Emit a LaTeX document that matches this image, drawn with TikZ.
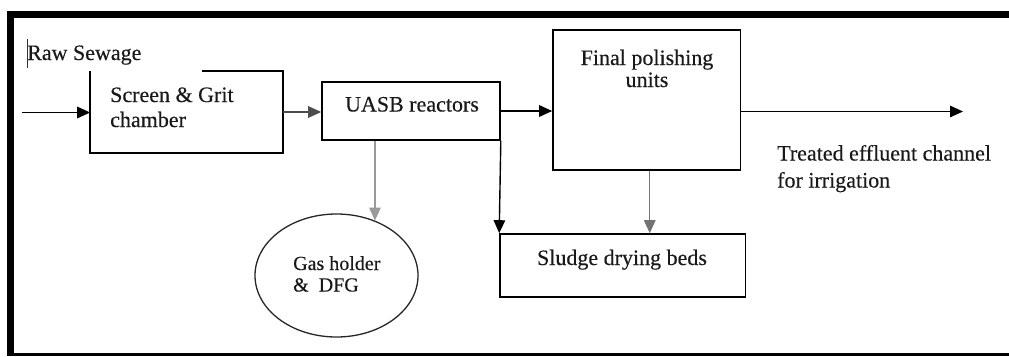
\documentclass[tikz,border=0pt]{standalone}
\usepackage{fontspec}
\setmainfont[FakeBold=0.3]{Liberation Serif}
\usetikzlibrary{arrows.meta,shapes.geometric,calc}
\tikzset{
  box/.style={draw=black, line width=1.6pt, inner sep=0pt, fill=none},
  oval/.style={ellipse, draw=black!85, line width=1.3pt, inner sep=0pt},
  txt/.style={inner sep=0pt, text=black!90},
  flow/.style={line width=1.4pt, -{Triangle[length=13pt,width=11.5pt]}},
  frame/.style={fill=black, draw=none}
}
\begin{document}
\begin{tikzpicture}[x=1pt,y=-1pt]
\useasboundingbox (0,0) rectangle (1009,356);
% frame
\fill[frame] (7,11) rectangle (1009,18);
\fill[frame] (7,11) rectangle (14,356);
\fill[frame] (7,353) rectangle (1009,356);

% boxes
\node[box, minimum width=191pt, minimum height=80pt, draw=none] (scr) at (186.5,112) {};
\draw[line width=1.6pt] ([xshift=112pt]scr.north west) -- (scr.north east) -- (scr.south east) -- (scr.south west) -- (scr.north west);
\node[box, minimum width=178pt, minimum height=58pt] (uasb) at (411,111) {};
\node[box, minimum width=187.5pt, minimum height=140pt] (fin) at (646.75,100) {};
\node[box, minimum width=245.5pt, minimum height=63pt] (sludge) at (622.75,265.5) {};
\node[oval, minimum width=163pt, minimum height=123pt] (gas) at (336.5,275.5) {};

% texts
\node[txt, anchor=base west, font=\fontsize{22}{25}\selectfont] (rawtxt) at (27,60) {Raw Sewage};
\draw[line width=1pt, black!80] (27,39) -- (27,68);
\node[txt, anchor=base west, font=\fontsize{22}{25}\selectfont] (scrtxt) at (110,102)
  {\begin{tabular}[t]{@{}l@{}}Screen \& Grit\\chamber\end{tabular}};
\node[txt, anchor=base, font=\fontsize{22}{25}\selectfont] (uasbtxt) at (412,111.5) {UASB reactors};
\node[txt, anchor=base, font=\fontsize{22}{22}\selectfont] (fintxt) at (647,65)
  {\begin{tabular}[t]{@{}c@{}}Final polishing\\units\end{tabular}};
\node[txt, anchor=base west, font=\fontsize{22}{27}\selectfont] (outtxt) at (777,160.5)
  {\begin{tabular}[t]{@{}l@{}}Treated effluent channel\\for irrigation\end{tabular}};
\node[txt, anchor=base west, font=\fontsize{20}{21.5}\selectfont] (gastxt) at (293,270)
  {\begin{tabular}[t]{@{}l@{}}Gas holder\\\&\hspace{10pt}DFG\end{tabular}};
\node[txt, anchor=base, font=\fontsize{22}{25}\selectfont] (sludgetxt) at (622,265) {Sludge drying beds};

% connectors
\coordinate (in) at (22,112.5);
\coordinate (out) at (963,111.5);
\draw[flow] (in) -- (scr.west |- in);
\draw[flow, black!70] (scr.east) -- (uasb.west |- scr.east);
\draw[flow] (uasb.east) -- (fin.west |- uasb.east);
\draw[flow] (fin.east |- out) -- (out);
\draw[flow, draw=black!40, fill=black] (gas.55 |- uasb.south) -- (gas.55);
\draw[flow] (uasb.south east) -- (sludge.north west);
\draw[flow, draw=black!55, fill=black] ([xshift=3pt]fin.south) -- ([xshift=3pt]fin.south |- sludge.north);
\end{tikzpicture}
\end{document}
